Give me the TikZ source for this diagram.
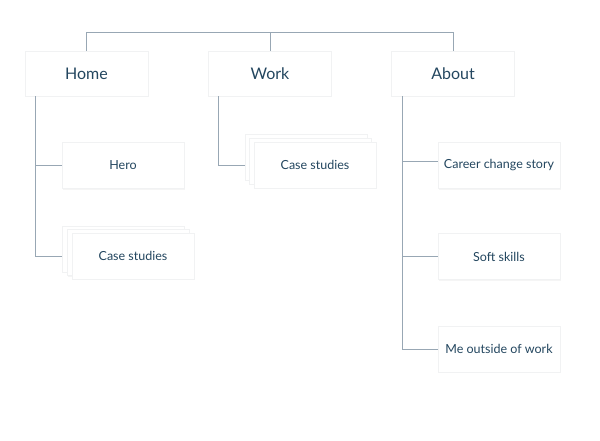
\documentclass[tikz,border=0pt]{standalone}
\usepackage{fontspec}
\setmainfont{Lato}
\usetikzlibrary{shadows,calc}
\definecolor{txt}{HTML}{23465F}
\definecolor{ln}{HTML}{98A7B4}
\definecolor{bd}{HTML}{F1F2F3}
\begin{document}
\begin{tikzpicture}[x=1pt,y=-1pt,
  topbox/.style={draw=bd,line width=0.5pt,fill=white,minimum width=123pt,minimum height=45pt,inner sep=0pt,text=txt,font=\fontsize{16}{18}\selectfont,drop shadow={opacity=0.08,shadow xshift=0.6pt,shadow yshift=-1.2pt}},
  subbox/.style={draw=bd,line width=0.5pt,fill=white,minimum width=122pt,minimum height=46pt,inner sep=0pt,text=txt,font=\fontsize{12.5}{15}\selectfont,drop shadow={opacity=0.08,shadow xshift=0.6pt,shadow yshift=-1.2pt}},
  conn/.style={draw=ln,line width=0.9pt}]
\useasboundingbox[fill=white] (0,0) rectangle (600,441);
% top level
\node[topbox] (home) at (86.5,73.5) {Home};
\node[topbox] (work) at (270,73.5) {Work};
\node[topbox] (about) at (453,73.5) {About};
\coordinate (topline) at (270,32);
\draw[conn] (home.north) -- (home.north |- topline) -- (about.north |- topline) -- (about.north);
\draw[conn] (work.north) -- (work.north |- topline);
% trunks
\coordinate (ht) at ($(home.south west)+(11,0)$);
\coordinate (wt) at ($(work.south west)+(10,0)$);
\coordinate (at) at ($(about.south west)+(11,0)$);
% Home children
\node[subbox] (hero) at (123,165.5) {Hero};
\node[subbox] (hcs2) at (123,249) {};
\node[subbox] (hcs1) at (128,252.5) {};
\node[subbox] (hcs) at (133,256) {Case studies};
\draw[conn] (ht) |- (hero.west);
\draw[conn] (ht) |- (hcs.west -| hcs2.west);
% Work children
\node[subbox] (wcs2) at (306,157) {};
\node[subbox] (wcs1) at (310.5,161) {};
\node[subbox] (wcs) at (315,165) {Case studies};
\draw[conn] (wt) |- (wcs.west -| wcs2.west);
% About children
\node[subbox] (career) at (499,165.5) {Career change story};
\node[subbox] (soft) at (499,256.5) {Soft skills};
\node[subbox] (me) at (499,349) {Me outside of work};
\draw[conn] (at) |- ([yshift=4.5pt]career.west);
\draw[conn] (at) |- (soft.west);
\draw[conn] (at) |- (me.west);
\end{tikzpicture}
\end{document}
